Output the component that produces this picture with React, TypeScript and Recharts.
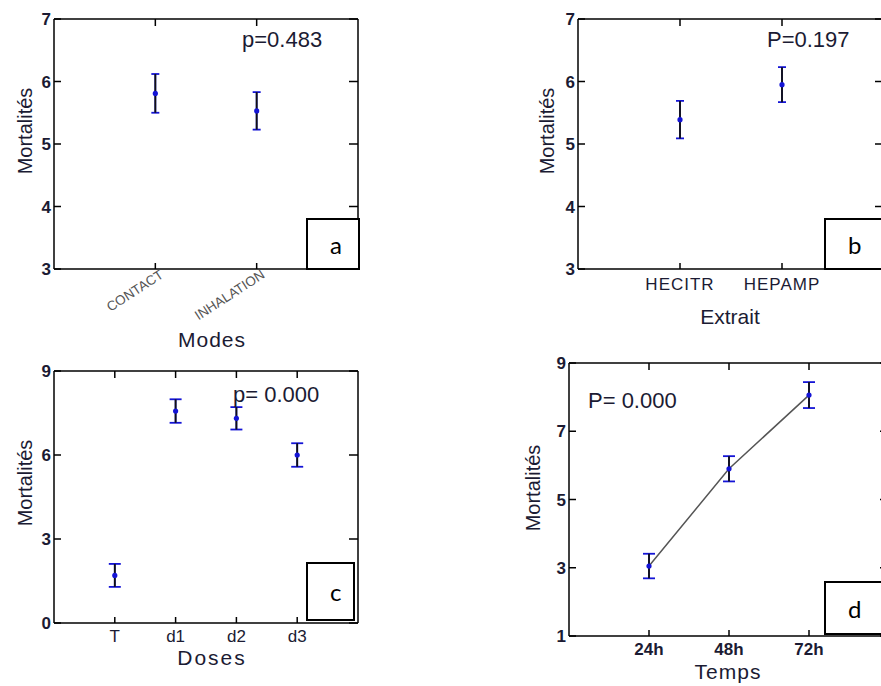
import React from "react";
import { ScatterChart, Scatter, XAxis, YAxis, ErrorBar } from "recharts";

// a) modes d'application
const modes = ["CONTACT", "INHALATION"];
const modesMean = [5.81, 5.53];
const modesErr = [0.31, 0.3];

// b) extraits
const extraits = ["HECITR", "HEPAMP"];
const extraitsMean = [5.39, 5.95];
const extraitsErr = [0.3, 0.28];

// c) doses
const doses = ["T", "d1", "d2", "d3"];
const dosesMean = [1.7, 7.57, 7.31, 6.0];
const dosesErr = [0.41, 0.42, 0.4, 0.42];

// d) temps
const temps = ["24h", "48h", "72h"];
const tempsMean = [3.05, 5.9, 8.06];
const tempsErr = [0.36, 0.37, 0.38];

const FONT = '"Liberation Sans", Arial, sans-serif';
const INK = "#1b1b33";
const BLUE = "#1414d6";

type Cfg = {
  left: number;
  top: number;
  width: number;
  height: number;
  yW: number;
  mt: number;
  mr: number;
  xH: number;
  cats: string[];
  mean: number[];
  err: number[];
  yDomain: [number, number];
  yTicks: number[];
  cap: number;
  rotate?: boolean;
  tickDy: number;
  tickSize: number;
  tickBold?: boolean;
  tickSpacing?: number;
  xTitle: string;
  xTitleX: number;
  xTitleY: number;
  xTitleSpacing?: number;
  yTitleX: number;
  yTitleY: number;
  line?: boolean;
  pText: string;
  pX: number;
  pY: number;
  tag: string;
  tagBox: { left: number; top: number; width: number; height: number };
};

const noLabel = () => <g />;
const noShape = () => <g />;

function Panel({ c }: { c: Cfg }) {
  const data = c.cats.map((_, i) => ({ x: i + 1, y: c.mean[i], err: c.err[i] }));
  const xTicks = c.cats.map((_, i) => i + 1);
  const xDomain: [number, number] = [0, c.cats.length + 1];

  const xTick = (props: any) => {
    const { x, y, payload } = props;
    const label = c.cats[payload.value - 1];
    if (label === undefined) return <g />;
    if (c.rotate) {
      const tx = x + 9;
      const ty = y + 8;
      return (
        <text x={tx} y={ty} textAnchor="end" transform={`rotate(-33 ${tx} ${ty})`}
          fontSize={13.5} fill="#555" fontFamily={FONT}>
          {label}
        </text>
      );
    }
    return (
      <text x={x} y={y + c.tickDy} textAnchor="middle" fontSize={c.tickSize} fill={INK}
        fontFamily={FONT} fontWeight={c.tickBold ? 700 : 400} letterSpacing={c.tickSpacing ?? 0}>
        {label}
      </text>
    );
  };

  const yTick = (props: any) => {
    const { x, y, payload } = props;
    return (
      <text x={x} y={y + 6} textAnchor="end" fontSize={17} fontWeight={700} fill={INK}
        fontFamily={FONT}>
        {payload.value}
      </text>
    );
  };

  const axisLine = { stroke: "#000", strokeWidth: 1.5 };
  const tickLine = { stroke: "#000", strokeWidth: 1.5 };

  return (
    <div style={{ position: "absolute", left: c.left, top: c.top }}>
      <ScatterChart width={c.width} height={c.height}
        margin={{ top: c.mt, right: c.mr, bottom: 0, left: 0 }}>
        <XAxis xAxisId="b" dataKey="x" type="number" domain={xDomain} ticks={xTicks}
          allowDataOverflow interval={0} height={c.xH} tickLine={false} tickSize={0} tickMargin={0}
          axisLine={axisLine} tick={xTick}
          label={{
            value: c.xTitle,
            content: () => (
              <text x={c.xTitleX} y={c.xTitleY} textAnchor="middle" fontSize={21} fill={INK}
                fontFamily={FONT} letterSpacing={c.xTitleSpacing ?? 0}>
                {c.xTitle}
              </text>
            ),
          }} />
        <XAxis xAxisId="bi" dataKey="x" type="number" domain={xDomain} ticks={xTicks} allowDataOverflow
          interval={0} orientation="bottom" mirror tick={noLabel} axisLine={false} tickSize={6}
          tickLine={tickLine} />
        <XAxis xAxisId="t" dataKey="x" type="number" domain={xDomain} ticks={xTicks} allowDataOverflow
          interval={0} orientation="top" mirror tick={noLabel} axisLine={axisLine} tickSize={7}
          tickLine={tickLine} />
        <YAxis yAxisId="l" dataKey="y" type="number" domain={c.yDomain} ticks={c.yTicks}
          allowDataOverflow interval={0} width={c.yW} tickLine={false} tickSize={0} tickMargin={3}
          axisLine={axisLine} tick={yTick}
          label={{
            value: "Mortalités",
            content: () => (
              <text x={c.yTitleX} y={c.yTitleY} textAnchor="middle" dominantBaseline="central"
                transform={`rotate(-90 ${c.yTitleX} ${c.yTitleY})`} fontSize={20} fill={INK}
                fontFamily={FONT}>
                Mortalités
              </text>
            ),
          }} />
        <YAxis yAxisId="li" dataKey="y" type="number" domain={c.yDomain} ticks={c.yTicks} allowDataOverflow
          interval={0} orientation="left" mirror tick={noLabel} axisLine={false} tickSize={7}
          tickLine={tickLine} />
        <YAxis yAxisId="r" dataKey="y" type="number" domain={c.yDomain} ticks={c.yTicks} allowDataOverflow
          interval={0} orientation="right" mirror tick={noLabel} axisLine={axisLine} tickSize={9}
          tickLine={tickLine} />
        {/* invisible series so the frame axes get their ticks */}
        <Scatter data={data} xAxisId="bi" yAxisId="li" shape={noShape} isAnimationActive={false} />
        <Scatter data={data} xAxisId="t" yAxisId="r" shape={noShape} isAnimationActive={false} />
        <Scatter data={data} xAxisId="b" yAxisId="l" isAnimationActive={false}
          line={c.line ? { stroke: "#555", strokeWidth: 1.5 } : false}
          shape={(s: any) => <circle cx={s.cx} cy={s.cy} r={2.6} fill={BLUE} />}>
          <ErrorBar dataKey="err" direction="y" width={c.cap} stroke={BLUE} strokeWidth={1.8} />
          <ErrorBar dataKey="err" direction="y" width={0} stroke="#111" strokeWidth={1.8} />
        </Scatter>
      </ScatterChart>
      <div style={{
        position: "absolute", left: c.pX, top: c.pY, fontFamily: FONT, fontSize: 22,
        color: INK, whiteSpace: "pre", lineHeight: 1,
      }}>
        {c.pText}
      </div>
      <div style={{
        position: "absolute", left: c.tagBox.left, top: c.tagBox.top, width: c.tagBox.width,
        height: c.tagBox.height, boxSizing: "border-box", border: "2px solid #000",
        background: "#fff", fontFamily: "Lato, 'Open Sans', sans-serif", fontSize: 24,
        color: "#000", display: "flex", alignItems: "center", paddingLeft: 22,
      }}>
        {c.tag}
      </div>
    </div>
  );
}

const panels: Cfg[] = [
  {
    left: 0, top: 0, width: 370, height: 350, yW: 54, mt: 19, mr: 12, xH: 81,
    cats: modes, mean: modesMean, err: modesErr, yDomain: [3, 7], yTicks: [3, 4, 5, 6, 7],
    cap: 4, rotate: true, tickDy: 0, tickSize: 12,
    xTitle: "Modes", xTitleX: 212, xTitleY: 347, xTitleSpacing: 1,
    yTitleX: 25, yTitleY: 131,
    pText: "p=0.483", pX: 242, pY: 29,
    tag: "a", tagBox: { left: 306, top: 218, width: 54, height: 52 },
  },
  {
    left: 500, top: 0, width: 394, height: 340, yW: 78, mt: 19, mr: 10, xH: 71,
    cats: extraits, mean: extraitsMean, err: extraitsErr, yDomain: [3, 7], yTicks: [3, 4, 5, 6, 7],
    cap: 4, tickDy: 21, tickSize: 17, tickSpacing: 1,
    xTitle: "Extrait", xTitleX: 230, xTitleY: 324,
    yTitleX: 47, yTitleY: 131,
    pText: "P=0.197", pX: 267, pY: 29,
    tag: "b", tagBox: { left: 324, top: 218, width: 70, height: 52 },
  },
  {
    left: 0, top: 340, width: 370, height: 346, yW: 54, mt: 31, mr: 12, xH: 63,
    cats: doses, mean: dosesMean, err: dosesErr, yDomain: [0, 9], yTicks: [0, 3, 6, 9],
    cap: 6, tickDy: 19, tickSize: 17,
    xTitle: "Doses", xTitleX: 212, xTitleY: 325, xTitleSpacing: 2,
    yTitleX: 25, yTitleY: 143,
    pText: "p= 0.000", pX: 233, pY: 44,
    tag: "c", tagBox: { left: 306, top: 222, width: 49, height: 59 },
  },
  {
    left: 500, top: 340, width: 399, height: 346, yW: 69, mt: 23, mr: 10, xH: 50,
    cats: temps, mean: tempsMean, err: tempsErr, yDomain: [1, 9], yTicks: [1, 3, 5, 7, 9],
    cap: 6, tickDy: 19, tickSize: 17, tickBold: true, line: true,
    xTitle: "Temps", xTitleX: 228, xTitleY: 339, xTitleSpacing: 1,
    yTitleX: 33, yTitleY: 148,
    pText: "P= 0.000", pX: 88, pY: 50,
    tag: "d", tagBox: { left: 324, top: 241, width: 75, height: 54 },
  },
];

export default function App() {
  return (
    <div style={{
      position: "absolute", left: 0, top: 0, width: 881, height: 686,
      overflow: "hidden", background: "#fff",
    }}>
      {panels.map((c) => (
        <Panel key={c.tag} c={c} />
      ))}
    </div>
  );
}
